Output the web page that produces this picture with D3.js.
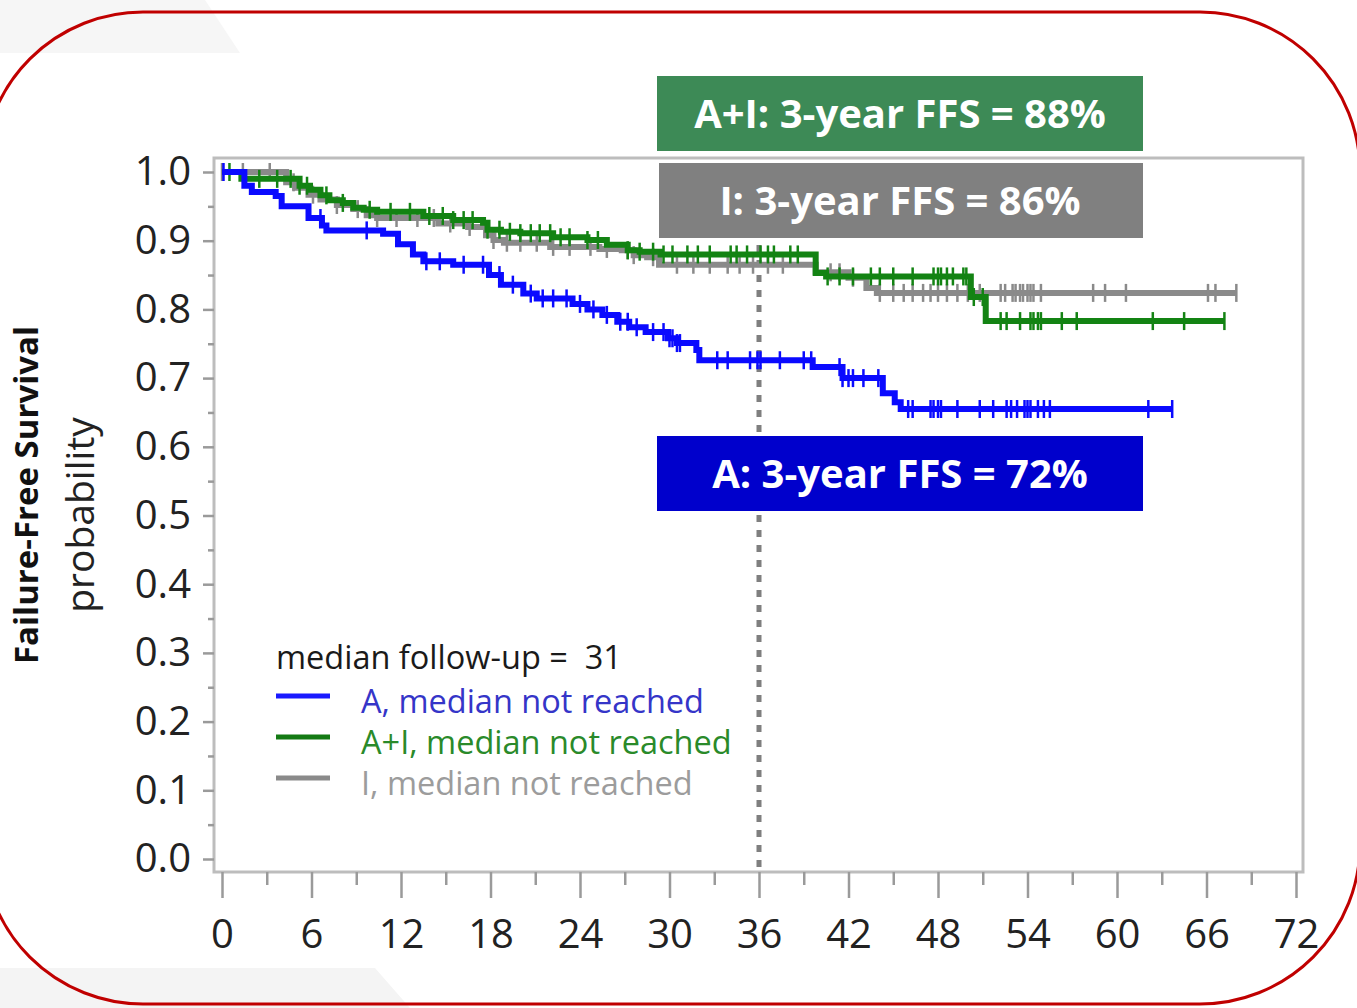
<!DOCTYPE html>
<html>
<head>
<meta charset="utf-8">
<title>Failure-Free Survival</title>
<script src="https://d3js.org/d3.v7.min.js"></script>
<style>
  body { margin: 0; background: #fff; }
  svg { display: block; }
  text { font-family: "Open Sans", "DejaVu Sans", sans-serif; white-space: pre; }
  .tick text { fill: #222; }
</style>
</head>
<body>
<div id="chart"></div>
<script>
// ---- data (months, survival probability) ----
const xTicks = [0, 6, 12, 18, 24, 30, 36, 42, 48, 54, 60, 66, 72];
const xMinor = [3, 9, 15, 21, 27, 33, 39, 45, 51, 57, 63, 69];
const yTicks = [0.0, 0.1, 0.2, 0.3, 0.4, 0.5, 0.6, 0.7, 0.8, 0.9, 1.0];
const yMinor = [0.05, 0.15, 0.25, 0.35, 0.45, 0.55, 0.65, 0.75, 0.85, 0.95];

// A
const timesA = [0, 1.5, 2.0, 3.6, 4.0, 5.8, 6.7, 7.0, 10.8, 11.8, 12.8, 13.5, 15.5, 17.9, 18.7, 20.2, 21.1, 23.5, 24.5, 25.5, 26.5, 27.3, 28.4, 29.9, 30.5, 31.8, 32.0, 39.6, 41.6, 44.3, 45.1, 45.5];
const survA  = [1.0, 0.98, 0.971, 0.965, 0.95, 0.933, 0.922, 0.915, 0.91, 0.895, 0.88, 0.87, 0.865, 0.85, 0.836, 0.823, 0.816, 0.808, 0.80, 0.792, 0.782, 0.774, 0.767, 0.758, 0.751, 0.741, 0.726, 0.716, 0.70, 0.678, 0.665, 0.655];
const censorA = [0.1, 6.6, 9.7, 13.7, 14.6, 16.2, 17.5, 18.6, 19.5, 20.7, 21.5, 22.2, 23.1, 24, 24.9, 25.8, 26.7, 27.2, 27.8, 28.9, 29.6, 30, 30.2, 30.5, 30.7, 33.2, 33.9, 35.4, 35.9, 36.1, 37.4, 39, 39.5, 41.4, 41.6, 42, 42.3, 43, 44, 46, 46.3, 47.5, 47.7, 48, 48.2, 49.3, 50.8, 51.7, 52.6, 52.9, 53.3, 53.8, 54, 54.2, 54.7, 55.1, 55.5, 62.1, 63.7];
const endA = 63.7;

// A+I
const timesAI = [0, 1.3, 5.2, 5.9, 6.6, 7.2, 8.1, 8.8, 9.5, 10.4, 13.5, 15.5, 17.5, 17.8, 18.7, 20.0, 22.2, 24.5, 25.8, 27.2, 28.0, 29.4, 39.8, 40.5, 50.2, 51.2];
const survAI  = [1.0, 0.99, 0.98, 0.974, 0.966, 0.959, 0.955, 0.948, 0.945, 0.942, 0.936, 0.93, 0.926, 0.916, 0.913, 0.911, 0.905, 0.901, 0.894, 0.886, 0.884, 0.88, 0.853, 0.848, 0.818, 0.783];
const censorAI = [0.5, 2.5, 3.7, 4.6, 5.2, 5.7, 7, 8.1, 9.9, 11.3, 12.6, 13.9, 14.8, 15.5, 16.2, 16.8, 17.8, 18.6, 19.3, 20, 20.7, 21.3, 22, 22.7, 23.3, 24.5, 25.2, 27.2, 28, 28.9, 29.6, 30.2, 31.2, 31.9, 32.7, 34.1, 34.5, 35.2, 36.1, 36.6, 37, 38.1, 38.6, 40.6, 41.4, 42.3, 43.5, 44.1, 45, 46.3, 47.7, 48, 48.2, 48.6, 49, 49.7, 49.9, 50.4, 51, 52.2, 52.6, 53.5, 54.2, 54.4, 54.7, 54.9, 56.3, 57.3, 62.4, 64.5, 67.2];
const endAI = 67.2;

// I
const timesI = [0, 4.3, 4.9, 5.8, 6.6, 7.7, 8.8, 9.7, 10.4, 14.5, 16.5, 17.7, 18.2, 18.9, 22.0, 25.3, 26.8, 27.6, 28.5, 29.3, 39.8, 42.0, 43.2, 43.9];
const survI  = [1.0, 0.985, 0.977, 0.967, 0.96, 0.952, 0.946, 0.937, 0.933, 0.925, 0.92, 0.908, 0.901, 0.897, 0.891, 0.888, 0.886, 0.879, 0.876, 0.865, 0.854, 0.846, 0.831, 0.824];
const censorI = [0, 1.4, 3.2, 4.8, 6.1, 7.7, 9.1, 10.4, 11.7, 13.1, 14.2, 15.3, 16.6, 18.2, 19.1, 20, 21.1, 22.2, 23.3, 24.7, 25.8, 27.2, 27.6, 28.9, 30.5, 31.6, 32.7, 33.9, 34.7, 35.6, 36.6, 37.6, 40.8, 41.4, 42.3, 44.1, 45, 45.7, 46.3, 47, 47.5, 48, 48.6, 49.3, 50, 50.8, 52.2, 52.5, 53, 53.2, 53.5, 53.7, 54, 54.2, 54.4, 54.9, 58.4, 59.2, 60.6, 66.1, 66.6, 68.0];
const endI = 68.0;

const boxLabels = ["A+I: 3-year FFS = 88%", "I: 3-year FFS = 86%", "A: 3-year FFS = 72%"];
const legendLabels = ["A, median not reached", "A+I, median not reached", "I, median not reached"];
const followUp = "median follow-up =  31";
const landmark = 36;

// ---- drawing ----
const width = 1357, height = 1008;
const svg = d3.select("#chart").append("svg")
  .attr("width", width).attr("height", height);

// faint background shapes
svg.append("polygon").attr("points", "0,0 205,0 240,53 0,53").attr("fill", "#f6f6f6");
svg.append("polygon").attr("points", "0,968 375,968 410,1008 0,1008").attr("fill", "#f4f4f4");

// red rounded frame
svg.append("rect")
  .attr("x", -17).attr("y", 12)
  .attr("width", 1377).attr("height", 992)
  .attr("rx", 160).attr("ry", 160)
  .attr("fill", "none").attr("stroke", "#c00000").attr("stroke-width", 3);

const x = d3.scaleLinear().domain([0, 72]).range([222, 1296]);
const y = d3.scaleLinear().domain([0, 1]).range([859, 172]);

const frame = { left: 214, top: 158, right: 1303, bottom: 872 };

// plot frame
svg.append("rect")
  .attr("x", frame.left).attr("y", frame.top)
  .attr("width", frame.right - frame.left).attr("height", frame.bottom - frame.top)
  .attr("fill", "#fff").attr("stroke", "#bdbdbd").attr("stroke-width", 3);

// x axis
const xAxis = svg.append("g").attr("transform", `translate(0,${frame.bottom})`)
  .call(d3.axisBottom(x).tickValues(xTicks).tickSize(26).tickPadding(22).tickFormat(d3.format("d")));
const xAxisMinor = svg.append("g").attr("transform", `translate(0,${frame.bottom})`)
  .call(d3.axisBottom(x).tickValues(xMinor).tickSize(13).tickFormat(""));

// y axis
const yAxis = svg.append("g").attr("transform", `translate(${frame.left},0)`)
  .call(d3.axisLeft(y).tickValues(yTicks).tickSize(11).tickPadding(12).tickFormat(d3.format(".1f")));
const yAxisMinor = svg.append("g").attr("transform", `translate(${frame.left},0)`)
  .call(d3.axisLeft(y).tickValues(yMinor).tickSize(6).tickFormat(""));

[xAxis, xAxisMinor, yAxis, yAxisMinor].forEach(g => {
  g.select(".domain").remove();
  g.selectAll(".tick line").attr("stroke", "#9a9a9a").attr("stroke-width", 2.5);
  g.selectAll(".tick text").attr("font-size", 40).attr("font-family", "'Open Sans', sans-serif").attr("fill", "#222");
});
xAxis.selectAll(".tick text").attr("dy", "0.71em");

// axis titles
svg.append("text")
  .attr("transform", "translate(38,495) rotate(-90)")
  .attr("text-anchor", "middle")
  .attr("font-size", 33).attr("font-weight", "bold").attr("fill", "#111")
  .text("Failure-Free Survival");
svg.append("text")
  .attr("transform", "translate(94,515) rotate(-90)")
  .attr("text-anchor", "middle")
  .attr("font-size", 39).attr("fill", "#222")
  .text("probability");

// landmark dotted line
svg.append("line")
  .attr("x1", x(landmark)).attr("x2", x(landmark))
  .attr("y1", 245).attr("y2", frame.bottom)
  .attr("stroke", "#7f7f7f").attr("stroke-width", 5)
  .attr("stroke-dasharray", "7 8");

// curves
const series = [
  { t: timesI, s: survI, c: censorI, end: endI, color: "#8a8a8a" },
  { t: timesAI, s: survAI, c: censorAI, end: endAI, color: "#138313" },
  { t: timesA, s: survA, c: censorA, end: endA, color: "#0a0aff" }
];

const line = d3.line().x(d => x(d[0])).y(d => y(d[1])).curve(d3.curveStepAfter);

series.forEach(sr => {
  const pts = sr.t.map((t, i) => [t, sr.s[i]]);
  pts.push([sr.end, sr.s[sr.s.length - 1]]);
  const surv = t => sr.s[Math.max(0, d3.bisectRight(sr.t, t) - 1)];
  svg.append("path")
    .attr("d", line(pts))
    .attr("fill", "none")
    .attr("stroke", sr.color).attr("stroke-width", 6)
    .attr("stroke-linejoin", "miter");
  svg.append("g").selectAll("line")
    .data(sr.c)
    .join("line")
    .attr("x1", d => x(d)).attr("x2", d => x(d))
    .attr("y1", d => y(surv(d)) - 9).attr("y2", d => y(surv(d)) + 9)
    .attr("stroke", sr.color).attr("stroke-width", 2.5);
});

// annotation boxes
const boxes = [
  { label: boxLabels[0], x0: 657, y0: 76, color: "#3d8a56" },
  { label: boxLabels[1], x0: 659, y0: 163, color: "#808080" },
  { label: boxLabels[2], x0: 657, y0: 436, color: "#0000cc" }
];
boxes.forEach(b => {
  svg.append("rect")
    .attr("x", b.x0).attr("y", b.y0)
    .attr("width", 1143 - b.x0).attr("height", 75)
    .attr("fill", b.color);
  svg.append("text")
    .attr("x", 900).attr("y", b.y0 + 38)
    .attr("dy", "0.35em")
    .attr("text-anchor", "middle")
    .attr("font-size", 40).attr("font-weight", "bold").attr("fill", "#fff")
    .text(b.label);
});

// legend
svg.append("text")
  .attr("x", 276).attr("y", 669)
  .attr("font-size", 32.5).attr("fill", "#1a1a1a")
  .text(followUp);
const legendColors = ["#1a1aff", "#147a14", "#8a8a8a"];
const legendText = ["#3535c8", "#2a8a2a", "#9c9c9c"];
legendLabels.forEach((lab, i) => {
  const ly = 696 + i * 41;
  svg.append("line")
    .attr("x1", 276).attr("x2", 330)
    .attr("y1", ly).attr("y2", ly)
    .attr("stroke", legendColors[i]).attr("stroke-width", 5);
  svg.append("text")
    .attr("x", 361).attr("y", ly + 17)
    .attr("font-size", 32.5).attr("fill", legendText[i])
    .text(lab);
});
</script>
</body>
</html>
